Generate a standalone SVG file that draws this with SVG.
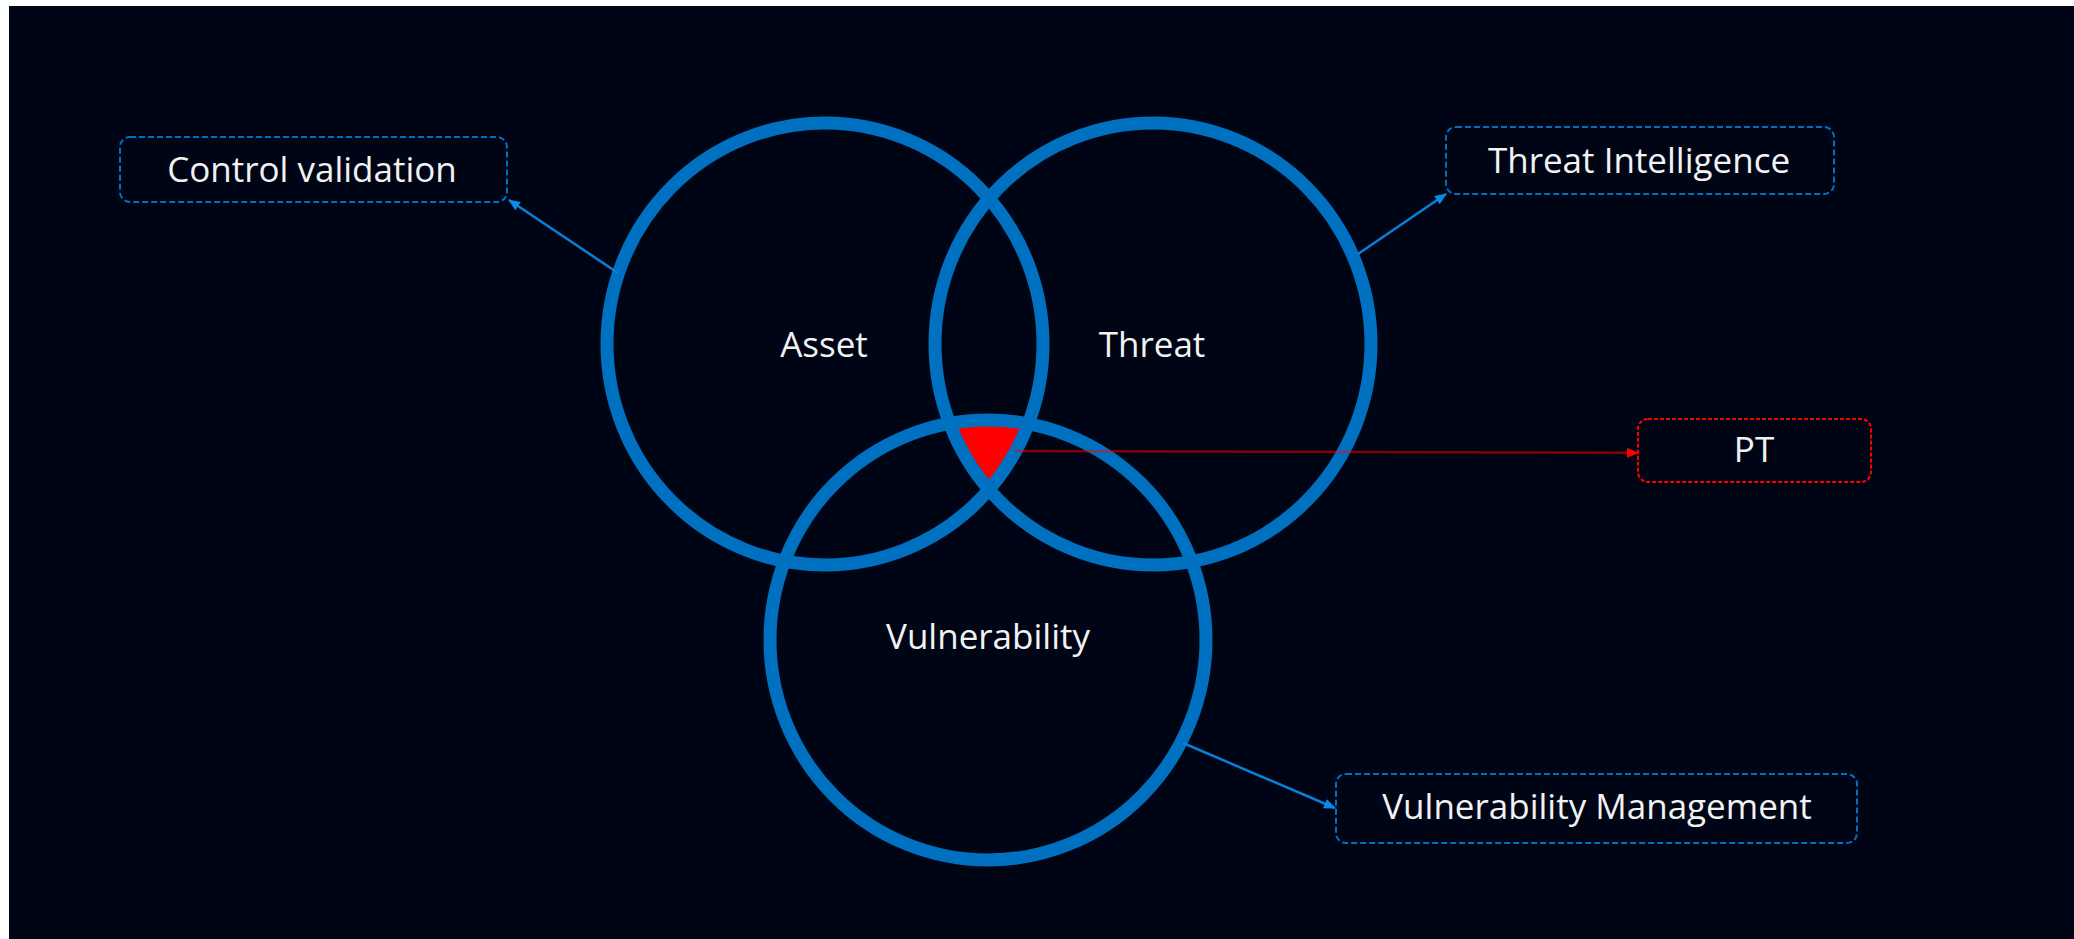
<svg xmlns="http://www.w3.org/2000/svg" width="2074" height="939" viewBox="0 0 2074 939">
  <style>
    .ring { fill: none; stroke: #0070C0; stroke-width: 13; }
    .lbl { font-family: "Open Sans", "Noto Sans", "Liberation Sans", sans-serif; font-size: 35px; fill: #F2F2F2; text-anchor: middle; }
    .box { fill: #000516; stroke: #0070C0; stroke-width: 2; stroke-dasharray: 6 3; }
    .boxred { fill: #000516; stroke: #FF0000; stroke-width: 2; stroke-dasharray: 4 2; }
    .conn { fill: none; stroke: #0A7FD6; stroke-width: 2.5; }
    .connred { fill: none; stroke: #FF0000; stroke-opacity: 0.5; stroke-width: 2.5; }
  </style>
  <defs>
    <marker id="arrBlue" viewBox="0 0 12 10" refX="11" refY="5" markerWidth="12" markerHeight="10" markerUnits="userSpaceOnUse" orient="auto">
      <path d="M0,0 L12,5 L0,10 z" fill="#0A8AE6"/>
    </marker>
    <marker id="arrRed" viewBox="0 0 12 10" refX="11" refY="5" markerWidth="12" markerHeight="10" markerUnits="userSpaceOnUse" orient="auto">
      <path d="M0,0 L12,5 L0,10 z" fill="#FF0000"/>
    </marker>
    <clipPath id="clipAsset"><ellipse cx="825" cy="344" rx="218" ry="221"/></clipPath>
    <clipPath id="clipThreat"><ellipse cx="1153" cy="344" rx="218" ry="221"/></clipPath>
  </defs>

  <rect x="0" y="0" width="2074" height="939" fill="#FFFFFF"/>
  <rect x="9" y="6" width="2065" height="933" fill="#000516"/>

  <g id="intersection">
    <g clip-path="url(#clipAsset)">
      <g clip-path="url(#clipThreat)">
        <ellipse cx="988" cy="640" rx="218" ry="220" fill="#FF0000"/>
      </g>
    </g>
  </g>

  <g id="asset">
    <ellipse class="ring" cx="825" cy="344" rx="218" ry="221"/>
    <text class="lbl" x="824" y="357">Asset</text>
  </g>
  <g id="threat">
    <ellipse class="ring" cx="1153" cy="344" rx="218" ry="221"/>
    <text class="lbl" x="1152" y="357">Threat</text>
  </g>
  <g id="vulnerability">
    <ellipse class="ring" cx="988" cy="640" rx="218" ry="220"/>
    <text class="lbl" x="988" y="649">Vulnerability</text>
  </g>

  <g id="connectors">
    <line class="conn" x1="618" y1="273" x2="509" y2="200" marker-end="url(#arrBlue)"/>
    <line class="conn" x1="1358" y1="254" x2="1446" y2="194" marker-end="url(#arrBlue)"/>
    <line class="conn" x1="1183" y1="743" x2="1335" y2="808" marker-end="url(#arrBlue)"/>
    <line class="connred" x1="1015" y1="451" x2="1627" y2="452.8"/>
    <line stroke="none" x1="1626" y1="452.8" x2="1638" y2="453" marker-end="url(#arrRed)"/>
  </g>

  <g id="control-validation">
    <rect class="box" x="120" y="137" width="387" height="65" rx="10"/>
    <text class="lbl" x="312" y="182">Control validation</text>
  </g>
  <g id="threat-intelligence">
    <rect class="box" x="1446" y="127" width="388" height="67" rx="10"/>
    <text class="lbl" x="1639" y="173">Threat Intelligence</text>
  </g>
  <g id="pt">
    <rect class="boxred" x="1638" y="419" width="233" height="63" rx="10"/>
    <text class="lbl" x="1754" y="462">PT</text>
  </g>
  <g id="vulnerability-management">
    <rect class="box" x="1336" y="774" width="521" height="69" rx="10"/>
    <text class="lbl" x="1597" y="819">Vulnerability Management</text>
  </g>
</svg>
